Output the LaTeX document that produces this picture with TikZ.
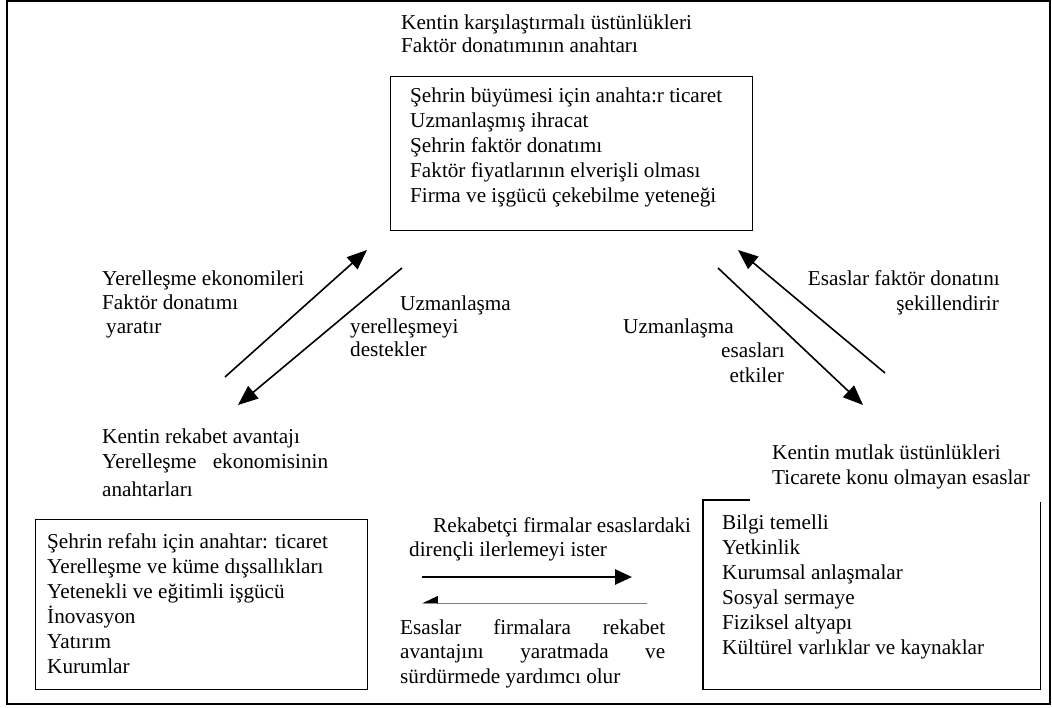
\documentclass[tikz,border=0pt]{standalone}
\usepackage{fontspec}
\setmainfont{Liberation Serif}
\usetikzlibrary{arrows.meta}

\tikzset{
  txt/.style={anchor=base west, inner sep=0pt, font=\fontsize{21.2}{25}\selectfont},
  txtr/.style={txt, anchor=base east},
  box/.style={draw, line width=1.2pt, inner sep=0pt, anchor=north west},
  link/.style={line width=1.6pt, -{Triangle[length=20pt, width=16pt]}},
}

\begin{document}
\begin{tikzpicture}[x=1pt, y=-1pt]
    \useasboundingbox (0,0) rectangle (1052,708);
    \draw [line width=1.8pt] (7,1) rectangle (1050,704);

    % Top box
    \node [txt] (kt1) at (401,30) {Kentin karşılaştırmalı üstünlükleri};
    \node [txt] (kt2) at (401,53) {Faktör donatımının anahtarı};
    \node [box, minimum width=362pt, minimum height=154pt] (topbox) at (390,76) {};
    \foreach \t [count=\i] in {Şehrin büyümesi için anahta:r ticaret, Uzmanlaşmış ihracat,
        Şehrin faktör donatımı, Faktör fiyatlarının elverişli olması,
        Firma ve işgücü çekebilme yeteneği} {
      \node [txt] (top\i) at (410, {78+25*\i}) {\t};
    }

    % Left box
    \node [txt] (kl1) at (102,443) {Kentin rekabet avantajı};
    \node [txt] (kl2) at (102,468) {\makebox[226pt][s]{Yerelleşme ekonomisinin}};
    \node [txt] (kl3) at (102,496) {anahtarları};
    \node [box, minimum width=332pt, minimum height=170pt] (leftbox) at (35,519) {};
    \foreach \t [count=\i] in {Şehrin refahı için anahtar: ticaret, Yerelleşme ve küme dışsallıkları,
        Yetenekli ve eğitimli işgücü, İnovasyon, Yatırım, Kurumlar} {
      \node [txt] (left\i) at (47, {523+25*\i}) {\t};
    }

    % Right box
    \node [txt] (kr1) at (772,459) {Kentin mutlak üstünlükleri};
    \node [txt] (kr2) at (772,484) {Ticarete konu olmayan esaslar};
    \node [inner sep=0pt, anchor=north west, minimum width=337pt, minimum height=189pt] (rightbox) at (703,500) {};
    \draw [line width=1.2pt] ([xshift=47pt]rightbox.north west) -- (rightbox.north west)
        |- (rightbox.south east) -- ([yshift=-2pt]rightbox.north east);
    \foreach \t [count=\i] in {Bilgi temelli, Yetkinlik, Kurumsal anlaşmalar, Sosyal sermaye,
        Fiziksel altyapı, Kültürel varlıklar ve kaynaklar} {
      \node [txt] (right\i) at (722, {504+25*\i}) {\t};
    }

    % Left arrows
    \coordinate (lu0) at (225,377);
    \coordinate (lu1) at (367,250);
    \coordinate (ld0) at (402,268);
    \coordinate (ld1) at (238,405);
    \draw [link] (lu0) -- (lu1);
    \draw [link] (ld0) -- (ld1);
    \node [txt] (ye1) at (102,286) {Yerelleşme ekonomileri};
    \node [txt] (ye2) at (102,310) {Faktör donatımı};
    \node [txt] (ye3) at (106,334) {yaratır};
    \node [txt] (uy1) at (400,311) {Uzmanlaşma};
    \node [txt] (uy2) at (350,334) {yerelleşmeyi};
    \node [txt] (uy3) at (350,357) {destekler};

    % Right arrows
    \coordinate (rd0) at (718,268);
    \coordinate (rd1) at (863,405);
    \coordinate (ru0) at (885,373);
    \coordinate (ru1) at (738,250);
    \draw [link] (rd0) -- (rd1);
    \draw [link] (ru0) -- (ru1);
    \node [txtr] (ef1) at (1000,286) {Esaslar faktör donatını};
    \node [txtr] (ef2) at (999,311) {şekillendirir};
    \node [txt] (ue1) at (623,334) {Uzmanlaşma};
    \node [txtr] (ue2) at (785,358) {esasları};
    \node [txtr] (ue3) at (784,382) {etkiler};

    % Bottom arrows
    \coordinate (hr0) at (422,577);
    \coordinate (hr1) at (632,577);
    \coordinate (hl0) at (647,603);
    \coordinate (hl1) at (422,603);
    \draw [line width=2.6pt, -{Triangle[length=17pt, width=15pt]}] (hr0) -- (hr1);
    \draw [line width=0.9pt, gray,
        -{Triangle[harpoon, swap, length=15pt, width=14pt, color=black]}] (hl0) -- (hl1);
    \node [txt] (rf1) at (433,532) {Rekabetçi firmalar esaslardaki};
    \node [txt] (rf2) at (409,556) {dirençli ilerlemeyi ister};
    \node [txt] (ea1) at (400,634) {\makebox[265pt][s]{Esaslar firmalara rekabet}};
    \node [txt] (ea2) at (400,658) {\makebox[265pt][s]{avantajını yaratmada ve}};
    \node [txt] (ea3) at (400,683) {sürdürmede yardımcı olur};
\end{tikzpicture}
\end{document}
